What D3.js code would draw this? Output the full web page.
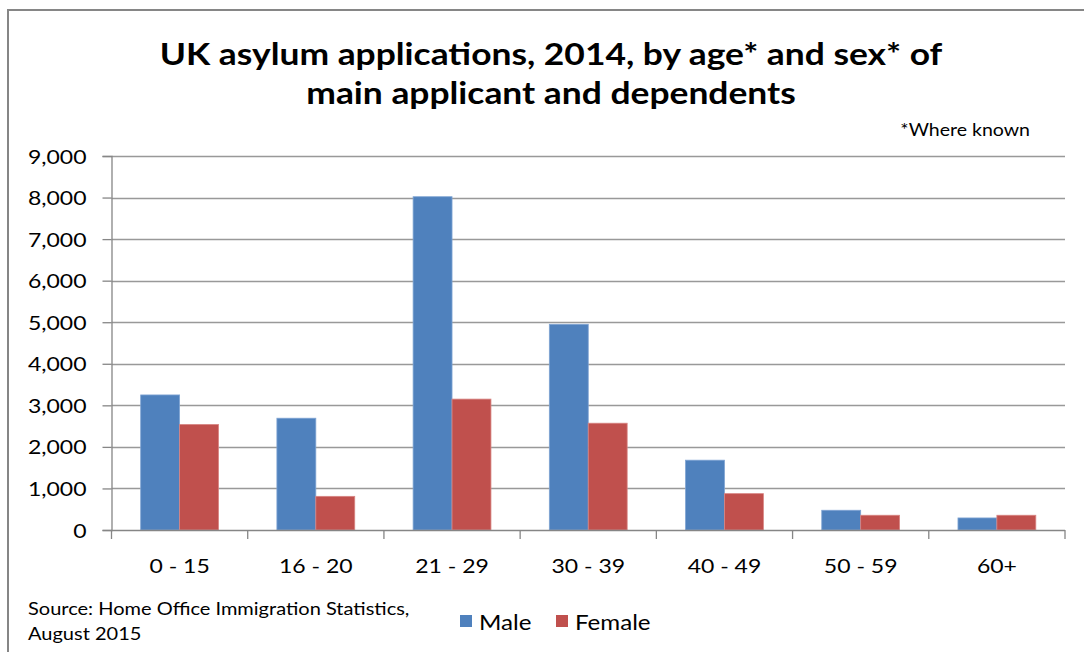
<!DOCTYPE html>
<html>
<head>
<meta charset="utf-8">
<script src="https://cdn.jsdelivr.net/npm/d3@7"></script>
<style>
  html, body { margin: 0; padding: 0; background: #fff; }
  svg { display: block; }
  text { font-family: Lato, "Open Sans", "Liberation Sans", sans-serif; fill: #000; }
</style>
</head>
<body>
<svg id="chart" width="1084" height="652"></svg>
<script>
// Age bands of the main applicant and dependents
const ageGroups = ["0 - 15", "16 - 20", "21 - 29", "30 - 39", "40 - 49", "50 - 59", "60+"];
const seriesNames = ["Male", "Female"];
const maleValues = [3250, 2690, 8020, 4950, 1680, 475, 290];
const femaleValues = [2540, 810, 3150, 2570, 875, 355, 355];
const yTickValues = [0, 1000, 2000, 3000, 4000, 5000, 6000, 7000, 8000, 9000];

const titleLines = ["UK asylum applications, 2014, by age* and sex* of", "main applicant and dependents"];
const noteText = "*Where known";
const sourceLines = ["Source: Home Office Immigration Statistics,", "August 2015"];

const colors = { Male: "#4F81BD", Female: "#C0504D" };
const edgeColors = { Male: "#7FA4D3", Female: "#D88583" };

const svg = d3.select("#chart");
const SX = 1.15; // horizontal stretch applied to all text

function label(parent, x, y, str, opts = {}) {
  const g = parent.append("g").attr("transform", `translate(${x},${y}) scale(${opts.sx || SX},1)`);
  return g.append("text")
    .attr("text-anchor", opts.anchor || "start")
    .attr("font-size", opts.size || 20)
    .attr("font-weight", opts.weight || "normal")
    .text(str);
}

// chart frame
svg.append("rect")
  .attr("x", 8).attr("y", 10).attr("width", 1100).attr("height", 680)
  .attr("fill", "#fff").attr("stroke", "#868686").attr("stroke-width", 2);

const plot = { left: 111.5, right: 1065, top: 156, bottom: 530 };

const y = d3.scaleLinear().domain([0, 9000]).range([plot.bottom, plot.top]);
const x = d3.scaleBand().domain(ageGroups).range([plot.left, plot.right]).paddingInner(0).paddingOuter(0);
const xs = d3.scaleBand().domain(seriesNames).range([0, x.bandwidth()]).paddingInner(0).paddingOuter(0.75);

// horizontal gridlines
svg.append("g").selectAll("line")
  .data(yTickValues.filter(v => v > 0))
  .join("line")
  .attr("x1", plot.left).attr("x2", plot.right)
  .attr("y1", d => Math.round(y(d)) + 0.5).attr("y2", d => Math.round(y(d)) + 0.5)
  .attr("stroke", "#999999").attr("stroke-width", 1.3);

// bars
const rows = ageGroups.map((g, i) => ({ group: g, Male: maleValues[i], Female: femaleValues[i] }));
const groups = svg.append("g").selectAll("g")
  .data(rows)
  .join("g")
  .attr("transform", d => `translate(${x(d.group)},0)`);
groups.selectAll("rect")
  .data(d => seriesNames.map(s => ({ key: s, value: d[s] })))
  .join("rect")
  .attr("x", d => xs(d.key))
  .attr("width", xs.bandwidth())
  .attr("y", d => y(d.value))
  .attr("height", d => y(0) - y(d.value))
  .attr("fill", d => colors[d.key])
  .attr("stroke", d => edgeColors[d.key])
  .attr("stroke-width", 0.8);

// y axis
const yAxis = d3.axisLeft(y).tickValues(yTickValues).tickSize(9).tickFormat(d3.format(","));
const yAxisG = svg.append("g").attr("transform", `translate(${plot.left},0)`).call(yAxis);
yAxisG.select(".domain").attr("stroke", "#868686").attr("stroke-width", 1.3);
yAxisG.selectAll(".tick line").attr("stroke", "#868686").attr("stroke-width", 1.3);
yAxisG.selectAll(".tick text").remove();
yAxisG.selectAll(".tick").each(function (d) {
  label(d3.select(this), -25, 7, d3.format(",")(d), { anchor: "end", size: 20 });
});

// x axis: boundary ticks between categories
const xAxisG = svg.append("g").attr("transform", `translate(0,${plot.bottom})`);
xAxisG.append("line")
  .attr("x1", plot.left).attr("x2", plot.right).attr("y1", 0.5).attr("y2", 0.5)
  .attr("stroke", "#868686").attr("stroke-width", 1.3);
const boundaries = ageGroups.map(g => x(g)).concat([x.range()[1]]);
xAxisG.selectAll("line.bound")
  .data(boundaries)
  .join("line")
  .attr("class", "bound")
  .attr("x1", d => d).attr("x2", d => d).attr("y1", 0).attr("y2", 9)
  .attr("stroke", "#868686").attr("stroke-width", 1.3);
ageGroups.forEach(g => {
  label(xAxisG, x(g) + x.bandwidth() / 2, 43, g, { anchor: "middle", size: 20 });
});

// title and notes
label(svg, 551, 65, titleLines[0], { anchor: "middle", size: 30, weight: "bold", sx: 1.18 });
label(svg, 551, 104, titleLines[1], { anchor: "middle", size: 30, weight: "bold", sx: 1.18 });
label(svg, 1030, 136, noteText, { anchor: "end", size: 17 });
label(svg, 28, 615, sourceLines[0], { size: 17.4 });
label(svg, 28, 640, sourceLines[1], { size: 17.4 });

// legend
const legend = svg.append("g");
const legendItems = [{ key: "Male", x: 460 }, { key: "Female", x: 556 }];
legendItems.forEach(it => {
  legend.append("rect")
    .attr("x", it.x).attr("y", 615).attr("width", 12).attr("height", 12)
    .attr("fill", colors[it.key]);
  label(legend, it.x + 19, 630, it.key, { size: 21 });
});
</script>
</body>
</html>
